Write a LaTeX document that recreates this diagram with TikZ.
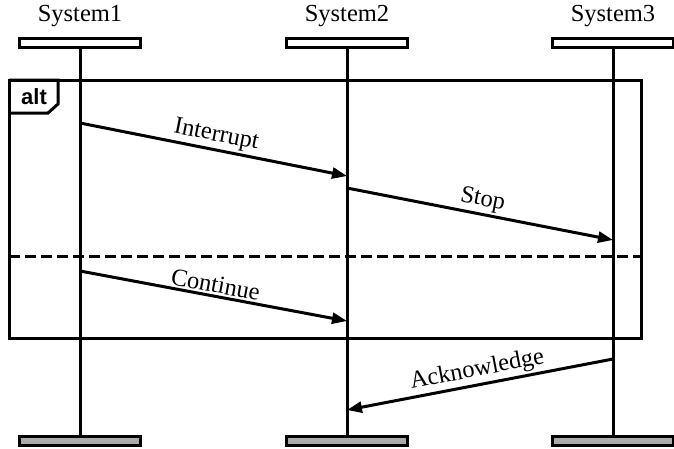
\documentclass[tikz,border=0pt]{standalone}
\usepackage{fontspec}
\setmainfont{Liberation Serif}
\newfontfamily\altfont{Liberation Sans}
\usetikzlibrary{arrows.meta}
\definecolor{footgray}{RGB}{170,170,170}
\begin{document}
\begin{tikzpicture}[x=1pt,y=-1pt,
  line width=3pt,
  headbox/.style={draw, fill=white, minimum width=121pt, minimum height=9pt, inner sep=0pt, line width=3pt},
  footbox/.style={headbox, fill=footgray},
  sysname/.style={font=\fontsize{24.5}{28}\selectfont, inner sep=0pt},
  lifeline/.style={line width=3pt},
  msg/.style={-{Triangle[length=15pt,width=11pt]}, line width=3pt},
  msglabel/.style={font=\fontsize{24.5}{28}\selectfont, sloped, above, inner sep=2pt, midway},
  framebox/.style={line width=3pt},
  sep/.style={line width=3pt, dash pattern=on 11pt off 5pt}]
\useasboundingbox (0,0) rectangle (674,448);
% frame
\draw[framebox] (9,80) rectangle (641,338);
\draw[framebox] (9,80) -- (58,80) -- (58,104) -- (48,113) -- (9,113);
\node[font=\altfont\bfseries\fontsize{22}{24}\selectfont, inner sep=0pt] (alt) at (34,97) {alt};
\draw[sep] (9,256) -- (641,256);
% heads and feet
\node[sysname] (n1) at (80,16) {System1};
\node[sysname] (n2) at (347,16) {System2};
\node[sysname] (n3) at (613,16) {System3};
\node[headbox] (h1) at (80,43) {};
\node[headbox] (h2) at (347,43) {};
\node[headbox] (h3) at (613,43) {};
\node[footbox] (f1) at (80,441) {};
\node[footbox] (f2) at (347,441) {};
\node[footbox] (f3) at (613,441) {};
\draw[lifeline] (h1.south) -- (f1.north);
\draw[lifeline] (h2.south) -- (f2.north);
\draw[lifeline] (h3.south) -- (f3.north);
% message end points
\coordinate (a1) at (80,123);
\coordinate (a2) at (347,176);
\coordinate (b1) at (347,188);
\coordinate (b2) at (613,240);
\coordinate (c1) at (80,271);
\coordinate (c2) at (347,321);
\coordinate (d1) at (613,359);
\coordinate (d2) at (347,410);
\draw[msg] (a1) -- node[msglabel] (la) {Interrupt} (a2);
\draw[msg] (b1) -- node[msglabel] (lb) {Stop} (b2);
\draw[msg] (c1) -- node[msglabel] (lc) {Continue} (c2);
\draw[msg] (d1) -- node[msglabel] (ld) {Acknowledge} (d2);
\end{tikzpicture}
\end{document}
